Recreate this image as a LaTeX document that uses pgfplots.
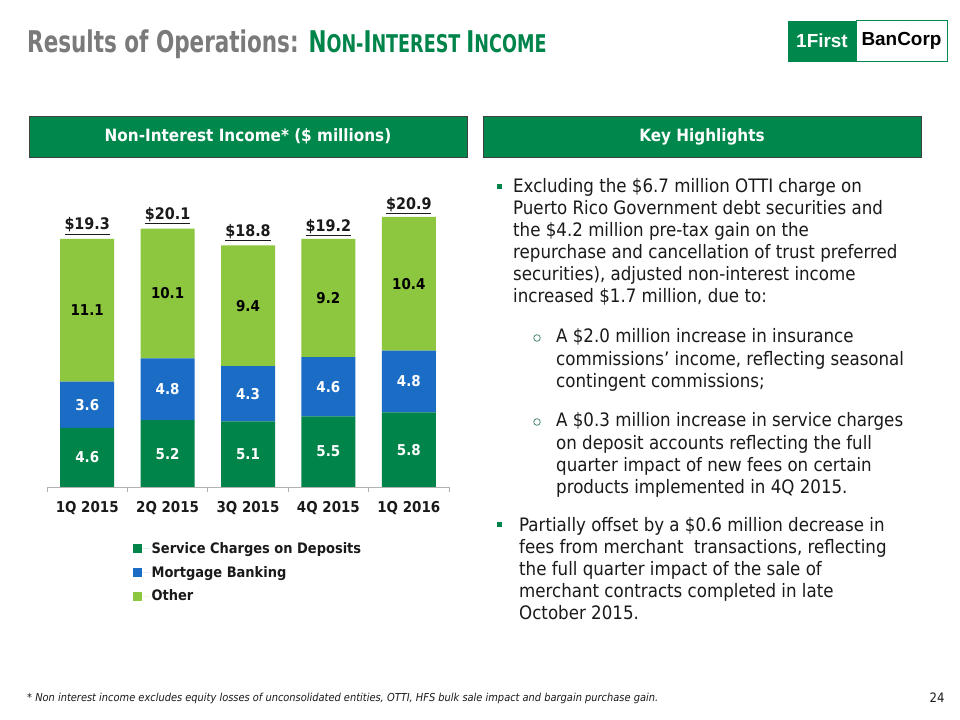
\documentclass[border=0pt]{standalone}
\usepackage{fontspec}
\setmainfont{DejaVu Sans Condensed}
\newfontfamily\titlefont[FakeStretch=0.8]{DejaVu Sans Condensed}
\newfontfamily\logofont{Liberation Sans}
\usepackage{pgfplots}
\pgfplotsset{compat=1.18}
\usepackage{pgfplotstable}

\definecolor{dkgreen}{HTML}{00844A}
\definecolor{mbblue}{HTML}{1A6CC4}
\definecolor{ltgreen}{HTML}{8DC63F}
\definecolor{hdrgreen}{HTML}{00874C}
\definecolor{titlegray}{HTML}{7A7A7A}
\definecolor{txt}{HTML}{1A1A1A}
\definecolor{subbul}{HTML}{4A8A70}

% quarterly non-interest income, $ millions
\pgfplotstableread{
x svc mort other total
0 4.6 3.6 11.1 19.3
1 5.2 4.8 10.1 20.1
2 5.1 4.3 9.4 18.8
3 5.5 4.6 9.2 19.2
4 5.8 4.8 10.4 20.9
}\income

\newcommand\bodyfont{\fontsize{18.6}{22}\selectfont}
\newcommand\tline[3]{\node[anchor=base west, inner sep=0, font=\bodyfont, text=txt] at (#1,720-#2) {#3};}
\newcommand\bigc{\fontsize{30}{34}\selectfont}
\newcommand\smc{\fontsize{24.5}{34}\selectfont}

\begin{document}
\begin{tikzpicture}[x=1bp,y=1bp]
\useasboundingbox (0,0) rectangle (960,720);
\fill[white] (0,0) rectangle (960,720);

% title
\node[anchor=base west, inner sep=0, font=\titlefont\bfseries\bigc, text=titlegray] at (27,667)
  {Results of Operations: \textcolor{dkgreen}{\bigc N\smc ON-\bigc I\smc NTEREST \bigc I\smc NCOME}};

% logo
\fill[hdrgreen] (788,699) rectangle (856,658);
\draw[hdrgreen, line width=1bp, fill=white] (856,699) rectangle (947,658);
\node[font=\logofont\bfseries\fontsize{19}{20}\selectfont, text=white] at (822,679) {1First};
\node[font=\logofont\bfseries\fontsize{19}{20}\selectfont, text=black] at (901.5,679) {BanCorp};

% header boxes
\draw[draw=black!75, fill=hdrgreen, line width=0.8bp] (29,604) rectangle (467,563);
\node[text=white, font=\bfseries\fontsize{17}{20}\selectfont] at (248,583.5) {Non-Interest Income* (\$ millions)};
\draw[draw=black!75, fill=hdrgreen, line width=0.8bp] (483,604) rectangle (921,563);
\node[text=white, font=\bfseries\fontsize{17}{20}\selectfont] at (702,583.5) {Key Highlights};

% bullets
\fill[dkgreen] (496.5,720-189) rectangle +(5,5);
\tline{513}{193}{Excluding the \$6.7 million OTTI charge on}
\tline{513}{215}{Puerto Rico Government debt securities and}
\tline{513}{237}{the \$4.2 million pre-tax gain on the}
\tline{513}{259}{repurchase and cancellation of trust preferred}
\tline{513}{281}{securities), adjusted non-interest income}
\tline{513}{303}{increased \$1.7 million, due to:}

\draw[subbul, line width=0.8bp] (537,720-338) circle (3.3);
\tline{556}{343}{A \$2.0 million increase in insurance}
\tline{556}{365.5}{commissions’ income, reflecting seasonal}
\tline{556}{388}{contingent commissions;}

\draw[subbul, line width=0.8bp] (537,720-422) circle (3.3);
\tline{556}{427}{A \$0.3 million increase in service charges}
\tline{556}{449.5}{on deposit accounts reflecting the full}
\tline{556}{472}{quarter impact of new fees on certain}
\tline{556}{494}{products implemented in 4Q 2015.}

\fill[dkgreen] (496.5,720-527) rectangle +(5,5);
\tline{519}{532}{Partially offset by a \$0.6 million decrease in}
\tline{519}{554}{fees from merchant\ \ transactions, reflecting}
\tline{519}{576}{the full quarter impact of the sale of}
\tline{519}{598}{merchant contracts completed in late}
\tline{519}{620}{October 2015.}

% footnote and page number
\node[anchor=base west, inner sep=0, font=\itshape\fontsize{11}{12}\selectfont, text=txt] at (27,720-702)
  {* Non interest income excludes equity losses of unconsolidated entities, OTTI, HFS bulk sale impact and bargain purchase gain.};
\node[anchor=base, inner sep=0, font=\fontsize{13}{14}\selectfont, text=txt] at (937,720-703) {24};

\begin{axis}[
  at={(47bp,233bp)}, anchor=south west,
  scale only axis, width=402bp, height=308.6bp,
  xmin=-0.5, xmax=4.5, ymin=0, ymax=24,
  ybar stacked, bar width=54bp,
  axis x line*=bottom, axis y line=none,
  x axis line style={-, draw=gray!60, line width=0.8bp},
  xtick={0,...,4},
  xticklabels={1Q 2015,2Q 2015,3Q 2015,4Q 2015,1Q 2016},
  major tick length=0pt,
  minor xtick={-0.5,0.5,...,4.5}, minor tick length=5bp, tick align=outside,
  minor tick style={draw=gray!60, line width=0.8bp},
  xticklabel style={font=\bfseries\fontsize{15}{18}\selectfont, text=txt, yshift=-11bp},
  ytick=\empty,
  point meta=explicit,
  nodes near coords={\pgfmathprintnumber[fixed,fixed zerofill,precision=1,assume math mode=true]{\pgfplotspointmeta}},
  every node near coord/.append style={anchor=center, font=\bfseries\fontsize{15}{18}\selectfont},
  legend style={at={(axis description cs:0.205,-0.165)}, anchor=north west, draw=none, fill=none,
    font=\bfseries\fontsize{14.5}{18}\selectfont, text=txt, row sep=7.5bp, cells={anchor=west}},
  legend image code/.code={\fill[#1] (0bp,-4.5bp) rectangle (9bp,4.5bp); \path (0bp,0bp) -- (17bp,0bp);},
]
\addplot[fill=dkgreen, draw=none, every node near coord/.append style={text=white}]
  table[x=x, y=svc, meta=svc]{\income};
\addplot[fill=mbblue, draw=none, every node near coord/.append style={text=white}]
  table[x=x, y=mort, meta=mort]{\income};
\addplot[fill=ltgreen, draw=none, every node near coord/.append style={text=black}]
  table[x=x, y=other, meta=other]{\income};
\legend{Service Charges on Deposits, Mortgage Banking, Other}
\end{axis}

% totals above the bars
\begin{axis}[
  at={(47bp,233bp)}, anchor=south west,
  scale only axis, width=402bp, height=308.6bp,
  xmin=-0.5, xmax=4.5, ymin=0, ymax=24,
  hide axis, point meta=explicit,
  nodes near coords={\underline{\$\pgfmathprintnumber[fixed,fixed zerofill,precision=1,assume math mode=true]{\pgfplotspointmeta}}},
  every node near coord/.append style={anchor=south, font=\bfseries\fontsize{16}{18}\selectfont, text=txt, yshift=1bp},
]
\addplot[draw=none, mark=none] table[x=x, y=total, meta=total]{\income};
\end{axis}
\end{tikzpicture}
\end{document}
